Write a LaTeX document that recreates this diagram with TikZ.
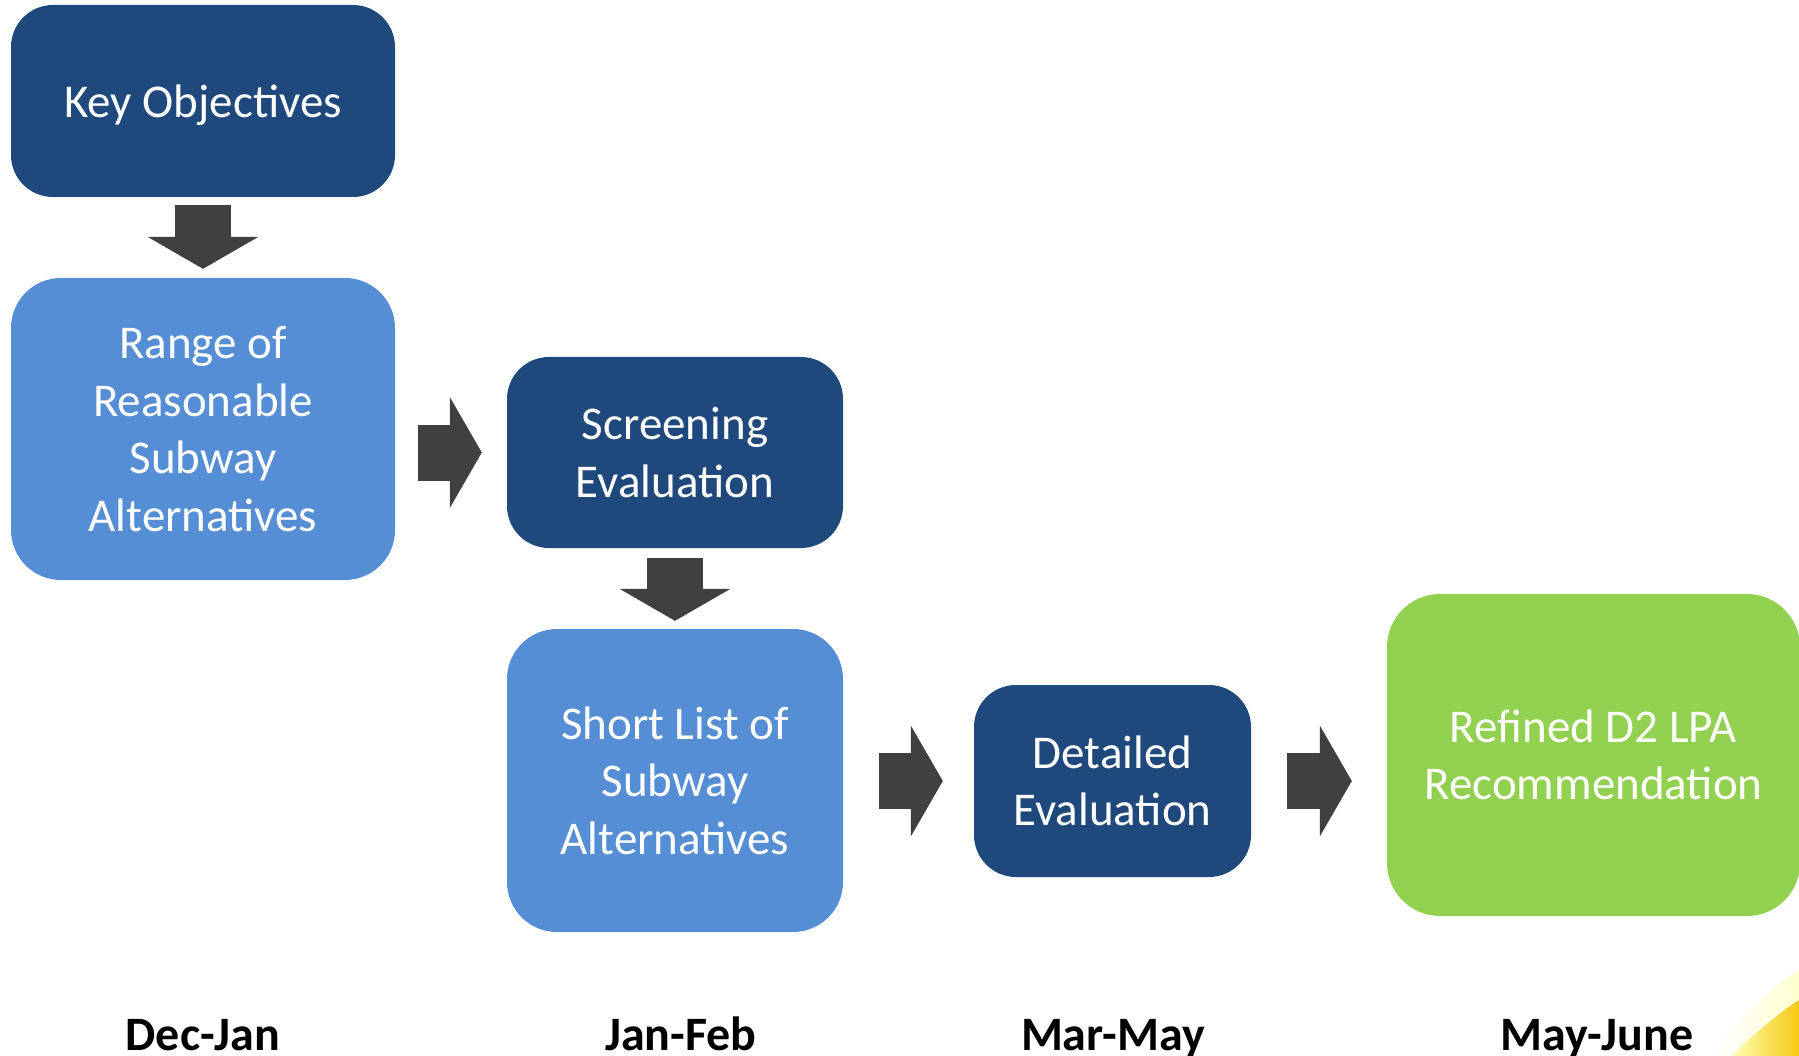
\documentclass[tikz,border=0pt]{standalone}
\usepackage{fontspec}
\setmainfont{Carlito}
\usepackage{xcolor}
\usetikzlibrary{arrows.meta, positioning}
\definecolor{darkblue}{RGB}{31,73,125}
\definecolor{lightblue}{RGB}{85,142,213}
\definecolor{leafgreen}{RGB}{146,208,80}
\definecolor{arrowgray}{RGB}{64,64,64}
\definecolor{sunyellow}{RGB}{245,200,20}

\begin{document}
\begin{tikzpicture}[x=1pt,y=-1pt]
            \tikzset{box/.style = {rounded corners=42pt, text=white, align=center, inner sep=0pt,
                                   font=\fontsize{47}{57.5}\selectfont},
                     flow/.style = {draw=arrowgray, line width=56pt,
                                    -{Triangle[length=32pt,width=111pt,line width=0pt]}},
                     month/.style = {anchor=base, font=\fontsize{48}{58}\selectfont\bfseries}}
            \useasboundingbox (0,0) rectangle (1799,1056);
            % boxes
            \node[box, fill=darkblue, minimum width=384pt, minimum height=192pt, text depth=0pt] (key) at (203,101) {Key Objectives};
            \node[box, fill=lightblue, minimum width=384pt, minimum height=302pt, rounded corners=50pt] (range) at (203,429) {Range of\\Reasonable\\Subway\\Alternatives};
            \node[box, fill=darkblue, minimum width=336pt, minimum height=191pt] (screen) at (675,452.5) {Screening\\Evaluation};
            \node[box, fill=lightblue, minimum width=336pt, minimum height=303pt, rounded corners=50pt] (short) at (675,780.5) {Short List of\\Subway\\Alternatives};
            \node[box, fill=darkblue, minimum width=277pt, minimum height=192pt] (detail) at (1112.5,781) {Detailed\\Evaluation};
            \node[box, fill=leafgreen, minimum width=413pt, minimum height=322pt, rounded corners=53pt] (refined) at (1593.5,755) {Refined D2 LPA\\Recommendation};
            % months
            \node[month] (m1) at (203,1050) {Dec-Jan};
            \node[month] (m2) at (681,1050) {Jan-Feb};
            \node[month] (m3) at (1113,1050) {Mar-May};
            \node[month] (m4) at (1597,1050) {May-June};
            % arrows
            \draw[flow, shorten <=8pt, shorten >=9pt] (key.south) -- (range.north);
            \draw[flow, shorten <=23pt, shorten >=25pt] (range.east |- screen.west) -- (screen.west);
            \draw[flow, shorten <=10pt, shorten >=8pt] (screen.south) -- (short.north);
            \draw[flow, shorten <=36pt, shorten >=31pt] (short.east |- detail.west) -- (detail.west);
            \draw[flow, shorten <=36pt, shorten >=35pt] (detail.east) -- (detail.east -| refined.west);
            % corner swoosh
            \shade[left color=white, right color=yellow!18]
                (1712,1056) .. controls (1745,1012) and (1775,985) .. (1799,970) -- (1799,1056) -- cycle;
            \shade[left color=yellow!30, right color=sunyellow]
                (1732,1056) .. controls (1758,1030) and (1780,1012) .. (1799,1000) -- (1799,1056) -- cycle;
        \end{tikzpicture}
\end{document}
